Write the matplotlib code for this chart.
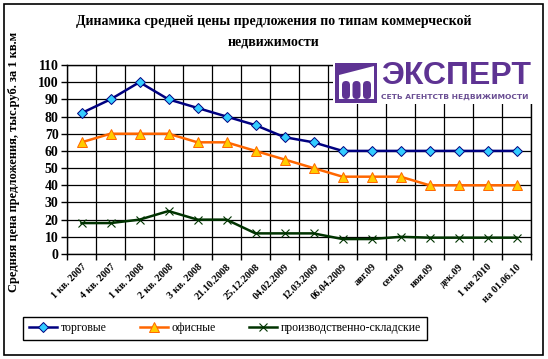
import matplotlib
matplotlib.use("Agg")
import matplotlib.pyplot as plt
from matplotlib.patches import Rectangle, Polygon, FancyBboxPatch
import numpy as np

categories = ["1 кв. 2007", "4 кв. 2007", "1 кв. 2008", "2 кв. 2008", "3 кв. 2008",
              "21.10.2008", "25.12.2008", "04.02.2009", "12.03.2009", "06.04.2009",
              "авг.09", "сен.09", "ноя.09", "дек.09", "1 кв 2010", "на 01.06.10"]
trade = [82, 90, 100, 90, 85, 80, 75, 68, 65, 60, 60, 60, 60, 60, 60, 60]
office = [65, 70, 70, 70, 65, 65, 60, 55, 50, 45, 45, 45, 40, 40, 40, 40]
industrial = [18, 18, 20, 25, 20, 20, 12, 12, 12, 8.7, 8.7, 10, 9.5, 9.5, 9.5, 9.5]
series_names = ["торговые", "офисные", "производственно-складские"]
yticks = list(range(0, 111, 10))

serif = "Liberation Serif"
W, H = 548, 359
fig = plt.figure(figsize=(W / 100, H / 100), dpi=100)
fig.patch.set_facecolor("white")

ax = fig.add_axes([67 / W, 1 - 254 / H, (531 - 67) / W, (254 - 65) / H])
x = np.arange(len(categories))
ax.plot(x, trade, color="#000080", lw=1.8, marker="D", ms=5.5, mfc="#33CCFF",
        mec="#000080", mew=0.7, label=series_names[0], zorder=4)
ax.plot(x, office, color="#FF6600", lw=1.8, marker="^", ms=7, mfc="#FFCC00",
        mec="#FF6600", mew=0.7, label=series_names[1], zorder=4)
ax.plot(x, industrial, color="#003300", lw=1.8, marker="x", ms=5.5,
        mec="#003300", mew=0.8, label=series_names[2], zorder=4)

ax.set_xlim(-0.5, len(categories) - 0.5)
ax.set_ylim(0, 110)
ax.set_yticks(yticks)
ax.set_yticklabels([str(v) for v in yticks], fontfamily=serif, fontweight="bold", fontsize=10)
ax.set_xticks(np.arange(-0.5, len(categories), 1.0))
ax.set_xticklabels([])
ax.set_xticks(x, minor=True)
ax.set_xticklabels(categories, minor=True, rotation=45, ha="right", va="top",
                   rotation_mode="anchor", fontfamily=serif, fontweight="bold", fontsize=7.4)
ax.tick_params(axis="x", which="minor", length=0, pad=6)
ax.tick_params(axis="x", which="major", direction="out", length=4, width=1, color="black")
ax.tick_params(axis="y", direction="out", length=4, width=1, pad=2)
ax.grid(True, which="major", color="black", lw=0.9)
for s in ax.spines.values():
    s.set_color("black")
    s.set_linewidth(1)
ax.set_axisbelow(True)

# overlay for pixel-coordinate decorations
ov = fig.add_axes([0, 0, 1, 1], zorder=5)
ov.set_xlim(0, W)
ov.set_ylim(H, 0)
ov.axis("off")
ov.patch.set_alpha(0)
ov.add_patch(Rectangle((4, 4), 539, 351, fill=False, ec="black", lw=1.2))

# logo
purple = "#5E3393"
ov.add_patch(Rectangle((333, 56), 202, 48, fc="white", ec="none"))
ov.add_patch(Rectangle((335, 63), 42, 40, fc=purple, ec="none"))
ov.add_patch(Polygon([(339, 75), (374, 66), (374, 99), (339, 99)], closed=True, fc="white", ec="none"))
for cx in (346, 356.5, 367):
    ov.add_patch(FancyBboxPatch((cx - 4, 81), 8, 18, boxstyle="round,pad=0,rounding_size=4",
                                fc=purple, ec="none"))
ov.text(456, 76, "ЭКСПЕРТ", color=purple, fontsize=23, fontweight="bold",
        fontfamily="Liberation Sans", ha="center", va="center")
ov.text(455, 97, "СЕТЬ АГЕНТСТВ НЕДВИЖИМОСТИ", color="#6A4E93", fontsize=5.4, fontweight="bold",
        fontfamily="DejaVu Sans", ha="center", va="center")

# title
ov.text(274, 22, "Динамика средней цены предложения по типам коммерческой", fontfamily=serif,
        fontweight="bold", fontsize=10, ha="center", va="center")
ov.text(274, 42, "недвижимости", fontfamily=serif, fontweight="bold", fontsize=10,
        ha="center", va="center")
ov.text(14, 162, "Средняя цена предложения, тыс.руб. за 1 кв.м", fontfamily=serif,
        fontweight="bold", fontsize=9, rotation=90, ha="center", va="center")

handles, labels = ax.get_legend_handles_labels()
leg = fig.legend(handles, labels, loc="center", bbox_to_anchor=(225 / W, 1 - 328.5 / H),
                 ncol=3, frameon=True, fancybox=False, edgecolor="black", framealpha=1,
                 prop={"family": serif, "size": 8.5}, handlelength=2.4, columnspacing=2.8,
                 handletextpad=0.3, borderpad=0.5)
leg.get_frame().set_linewidth(1)

fig.savefig("out.png", dpi=100, facecolor="white")
